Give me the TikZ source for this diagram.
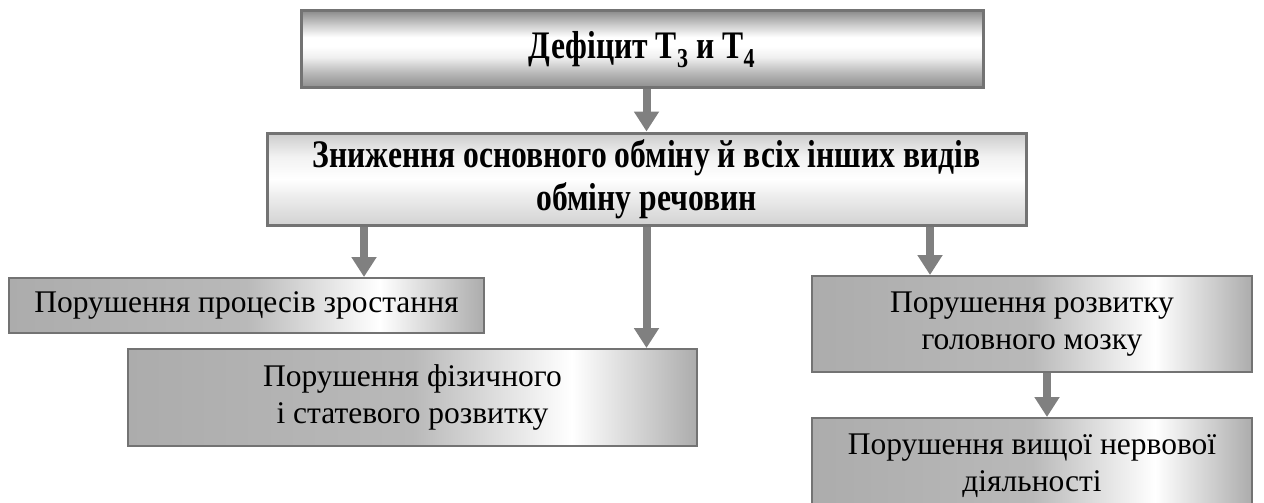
\documentclass[tikz,border=0pt]{standalone}
\usepackage{fontspec}
\usepackage{graphicx}
\setmainfont{Liberation Serif}
\usetikzlibrary{arrows.meta}

\pgfdeclareverticalshading{tube}{100bp}{color(0bp)=(gray!90); color(25bp)=(gray!90); color(35bp)=(gray!55); color(45bp)=(gray!12); color(52bp)=(white); color(58bp)=(white); color(66bp)=(gray!40); color(75bp)=(gray!90); color(100bp)=(gray!90)}
\pgfdeclareverticalshading{pale}{100bp}{color(0bp)=(gray!35); color(25bp)=(gray!35); color(40bp)=(gray!15); color(50bp)=(white); color(62bp)=(gray!10); color(75bp)=(gray!40); color(100bp)=(gray!40)}
\pgfdeclarehorizontalshading{bar}{100bp}{color(0bp)=(gray!65); color(25bp)=(gray!65); color(50bp)=(gray!55); color(64bp)=(white); color(75bp)=(gray!65); color(100bp)=(gray!65)}

\newcommand\narrow[1]{\scalebox{0.81}[1]{#1}}

\begin{document}
\begin{tikzpicture}[x=1pt,y=-1pt,
  box/.style={rectangle, draw=gray!90!black, line width=2pt, align=center, inner sep=0pt,
    font=\fontsize{31.5}{37}\selectfont},
  head/.style={box, font=\fontsize{39}{43}\selectfont\bfseries},
  arr/.style={draw=gray, line width=8pt, -{Triangle[width=24pt,length=20pt]}}]
\clip (0,0) rectangle (1264,503);

\node[head, shading=tube, line width=3pt, minimum width=682pt, minimum height=77pt]
  (deficit) at (642,49.5) {\narrow{Дефіцит T\textsubscript{3} и T\textsubscript{4}}};
\node[head, shading=pale, line width=3pt, minimum width=759pt, minimum height=92pt]
  (zn) at (646.5,179) {\narrow{Зниження основного обміну й всіх інших видів}\\\narrow{обміну речовин}};

\node[box, shading=bar, minimum width=475pt, minimum height=55pt]
  (proc) at (246.5,305.5) {Порушення процесів зростання};
\node[box, shading=bar, minimum width=569pt, minimum height=97pt]
  (fiz) at (412.5,397.5) {Порушення фізичного\\і статевого розвитку};
\node[box, shading=bar, minimum width=440pt, minimum height=96pt]
  (mozok) at (1032,324) {Порушення розвитку\\головного мозку};
\node[box, shading=bar, minimum width=440pt, minimum height=96pt]
  (nerv) at (1032,466) {Порушення вищої нервової\\діяльності};

% arrows
\coordinate (xl) at (364,0);
\coordinate (xr) at (930,0);
\coordinate (xn) at (1047,0);
\draw[arr] (deficit.south -| zn.north) -- (zn.north);
\draw[arr] (zn.south -| xl) -- (proc.north -| xl);
\draw[arr] (zn.south) -- (zn.south |- fiz.north);
\draw[arr] (zn.south -| xr) -- (mozok.north -| xr);
\draw[arr] (mozok.south -| xn) -- (nerv.north -| xn);

\end{tikzpicture}
\end{document}
